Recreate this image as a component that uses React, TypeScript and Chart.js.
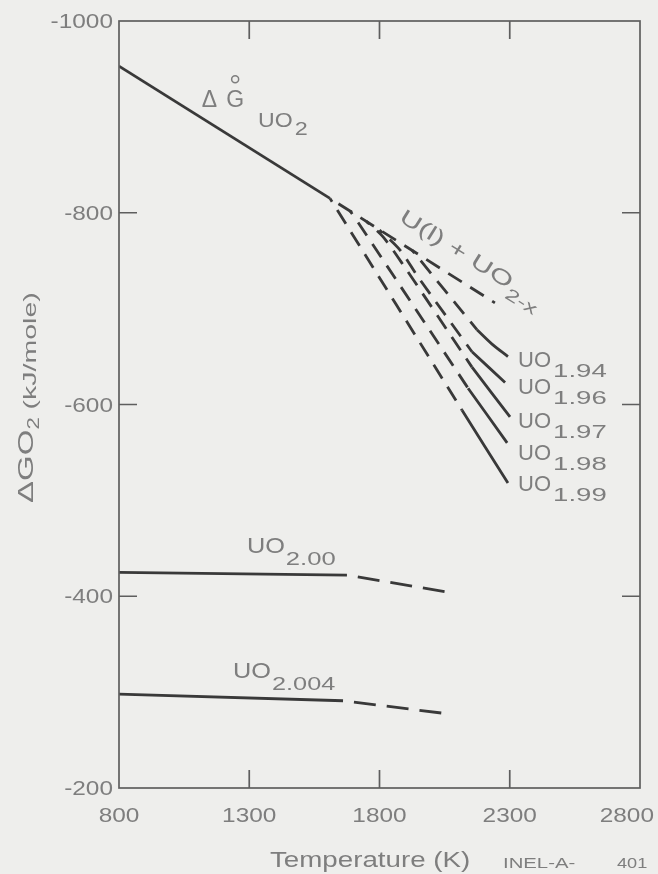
import React, { useEffect, useRef } from 'react';
import { Chart, registerables } from 'chart.js';

Chart.register(...registerables);

const W = 658;
const H = 874;

// Axes
const tempMin = 800;
const tempMax = 2800;
const tempTicks = [800, 1300, 1800, 2300, 2800];
const gMin = -1000;
const gMax = -200;
const gTicks = [-1000, -800, -600, -400, -200];
const innerTempTicks = [1300, 1800, 2300];
const innerGTicks = [-800, -600, -400];

// Standard free energy of formation of UO2 (solid line)
const dgTemp = [800, 1610];
const dgValue = [-953, -815];

// U(l) + UO2-x continuation (dashed)
const ulTemp = [1610, 2243];
const ulValue = [-815, -706];

// Hypostoichiometric UO2-x: each leaves the U(l) + UO2-x line (dashed),
// then becomes solid in the single-phase region
const hypoLabels = ['1.94', '1.96', '1.97', '1.98', '1.99'];
const hypoDashTemp = [
  [1925, 2174],
  [1800, 1879, 1948, 2155],
  [1750, 1813, 1890, 2155],
  [1687, 1725, 2140],
  [1610, 2117],
];
const hypoDashValue = [
  [-761, -678],
  [-782, -761, -733, -655],
  [-791, -775, -746, -639],
  [-802, -787, -617],
  [-815, -594],
];
const hypoTailTemp = [
  [2174, 2232, 2293],
  [2155, 2282],
  [2155, 2301],
  [2140, 2290],
  [2117, 2293],
];
const hypoTailValue = [
  [-678, -663, -650],
  [-655, -623],
  [-639, -587],
  [-617, -560],
  [-594, -518],
];
const hypoLabelValue = [-648, -620, -585, -552, -519];
const hypoLabelTemp = 2332;

// Stoichiometric UO2.00 and hyperstoichiometric UO2.004: solid, then dashed
const uo200Temp = [800, 1675, 2067];
const uo200Value = [-425, -422, -404];
const uo2004Temp = [800, 1660, 2044];
const uo2004Value = [-298, -291, -278];

// Annotation anchors (data units)
const dgLabelAt = { t: 1118, g: -910 };
const dgSubLabelAt = { t: 1334, g: -889 };
const ulLabelAt = { t: 1871, g: -792 };
const uo200LabelAt = { t: 1291, g: -445 };
const uo2004LabelAt = { t: 1238, g: -315 };

const BG = '#eeeeec';
const INK = '#393939';
const TEXT = '#7e7e7e';
const FRAME = '#5e5e5e';
const FONT = '"Liberation Sans", Arial, Helvetica, sans-serif';

type Run = { t: string; size: number; dy?: number; sx?: number; gap?: number };

function runsWidth(ctx: CanvasRenderingContext2D, runs: Run[]) {
  let w = 0;
  for (const r of runs) {
    ctx.font = `${r.size}px ${FONT}`;
    w += (r.gap ?? 0) + ctx.measureText(r.t).width * (r.sx ?? 1);
  }
  return w;
}

function drawRuns(ctx: CanvasRenderingContext2D, x: number, y: number, runs: Run[], angle = 0) {
  ctx.save();
  ctx.translate(x, y);
  if (angle) ctx.rotate(angle);
  ctx.textAlign = 'left';
  ctx.textBaseline = 'alphabetic';
  ctx.fillStyle = TEXT;
  let cx = 0;
  const xs: number[] = [];
  for (const r of runs) {
    ctx.font = `${r.size}px ${FONT}`;
    const sx = r.sx ?? 1;
    cx += r.gap ?? 0;
    xs.push(cx);
    ctx.save();
    ctx.translate(cx, r.dy ?? 0);
    ctx.scale(sx, 1);
    ctx.fillText(r.t, 0, 0);
    ctx.restore();
    cx += ctx.measureText(r.t).width * sx;
  }
  ctx.restore();
  return xs;
}

const pts = (xs: number[], ys: number[]) => xs.map((x, i) => ({ x, y: ys[i] }));

const line = (data: { x: number; y: number }[], dash: number[] = [], offset = 0, tension = 0) => ({
  data,
  showLine: true,
  borderColor: INK,
  borderWidth: 2.8,
  borderDash: dash,
  borderDashOffset: offset,
  borderCapStyle: 'butt' as const,
  pointRadius: 0,
  pointHoverRadius: 0,
  fill: false,
  tension,
});

function buildDatasets() {
  const ds: any[] = [];
  ds.push(line(pts(dgTemp, dgValue)));
  ds.push(line(pts(ulTemp, ulValue), [16, 10], 16));
  hypoLabels.forEach((_, i) => {
    ds.push(line(pts(hypoDashTemp[i], hypoDashValue[i]), [16, 10], 12, 0.3));
    ds.push(line(pts(hypoTailTemp[i], hypoTailValue[i]), [], 0, 0.3));
  });
  ds.push(line(pts(uo200Temp.slice(0, 2), uo200Value.slice(0, 2))));
  ds.push(line(pts(uo200Temp.slice(1), uo200Value.slice(1)), [22, 11], 22));
  ds.push(line(pts(uo2004Temp.slice(0, 2), uo2004Value.slice(0, 2))));
  ds.push(line(pts(uo2004Temp.slice(1), uo2004Value.slice(1)), [22, 11], 22));
  return ds;
}

const paper = {
  id: 'paper',
  beforeDraw(chart: any) {
    const { ctx } = chart;
    ctx.save();
    ctx.fillStyle = BG;
    ctx.fillRect(0, 0, chart.width, chart.height);
    ctx.restore();
  },
};

const decorations = {
  id: 'decorations',
  afterDraw(chart: any) {
    const { ctx, chartArea: a } = chart;
    const xs = chart.scales.x;
    const ys = chart.scales.y;
    const px = (t: number) => xs.getPixelForValue(t);
    const py = (g: number) => ys.getPixelForValue(g);

    ctx.save();
    // frame
    ctx.strokeStyle = FRAME;
    ctx.lineWidth = 1.7;
    ctx.strokeRect(a.left, a.top, a.right - a.left, a.bottom - a.top);

    // inward ticks
    const L = 18;
    ctx.beginPath();
    for (const t of innerTempTicks) {
      const x = px(t);
      ctx.moveTo(x, a.bottom);
      ctx.lineTo(x, a.bottom - L);
      ctx.moveTo(x, a.top);
      ctx.lineTo(x, a.top + L);
    }
    for (const g of innerGTicks) {
      const y = py(g);
      ctx.moveTo(a.left, y);
      ctx.lineTo(a.left + L, y);
      ctx.moveTo(a.right, y);
      ctx.lineTo(a.right - L, y);
    }
    ctx.stroke();

    // x tick labels
    for (const t of tempTicks) {
      const runs: Run[] = [{ t: String(t), size: 20, sx: 1.22 }];
      const w = runsWidth(ctx, runs);
      let x = px(t) - w / 2;
      x = Math.min(x, W - 4 - w);
      drawRuns(ctx, x, a.bottom + 34, runs);
    }
    // y tick labels
    for (const g of gTicks) {
      const runs: Run[] = [{ t: String(g), size: 20, sx: 1.22 }];
      const w = runsWidth(ctx, runs);
      drawRuns(ctx, a.left - 6 - w, py(g) + 7, runs);
    }

    // axis titles
    drawRuns(ctx, 270, 867, [{ t: 'Temperature (K)', size: 22, sx: 1.26 }]);
    drawRuns(ctx, 503, 868, [{ t: 'INEL-A-', size: 14, sx: 1.45 }]);
    drawRuns(ctx, 617, 868, [{ t: '401', size: 14, sx: 1.3 }]);
    drawRuns(
      ctx,
      33,
      503,
      [
        { t: 'ΔGO', size: 22, sx: 1.5 },
        { t: '2', size: 17, dy: 6, sx: 1.3 },
        { t: ' (kJ/mole)', size: 19, dy: 3, sx: 1.5 },
      ],
      -Math.PI / 2
    );

    // ΔG° UO2
    {
      const x0 = px(dgLabelAt.t);
      const y0 = py(dgLabelAt.g);
      const offs = drawRuns(ctx, x0, y0, [
        { t: 'Δ', size: 23 },
        { t: 'G', size: 23, gap: 9 },
      ]);
      ctx.font = `23px ${FONT}`;
      const gw = ctx.measureText('G').width;
      ctx.strokeStyle = TEXT;
      ctx.lineWidth = 1.5;
      ctx.beginPath();
      ctx.arc(x0 + offs[1] + gw / 2, y0 - 28, 3.5, 0, Math.PI * 2);
      ctx.stroke();
      drawRuns(ctx, px(dgSubLabelAt.t), py(dgSubLabelAt.g), [
        { t: 'UO', size: 21, sx: 1.1 },
        { t: '2', size: 18, dy: 8, sx: 1.3, gap: 2 },
      ]);
    }

    // U(l) + UO2-x along the continuation
    drawRuns(
      ctx,
      px(ulLabelAt.t),
      py(ulLabelAt.g),
      [
        { t: 'U(l) + UO', size: 21, sx: 1.45 },
        { t: '2-x', size: 17, dy: 9, sx: 1.45, gap: 1 },
      ],
      (32 * Math.PI) / 180
    );

    // hypostoichiometric labels
    hypoLabels.forEach((lab, i) => {
      const yc = py(hypoLabelValue[i]);
      drawRuns(ctx, px(hypoLabelTemp), yc + 9, [
        { t: 'UO', size: 22 },
        { t: lab, size: 19, dy: 10, sx: 1.45, gap: 2 },
      ]);
    });

    // UO2.00 and UO2.004
    drawRuns(ctx, px(uo200LabelAt.t), py(uo200LabelAt.g), [
      { t: 'UO', size: 22, sx: 1.15 },
      { t: '2.00', size: 19, dy: 12, sx: 1.35, gap: 1 },
    ]);
    drawRuns(ctx, px(uo2004LabelAt.t), py(uo2004LabelAt.g), [
      { t: 'UO', size: 22, sx: 1.15 },
      { t: '2.004', size: 19, dy: 12, sx: 1.33, gap: 1 },
    ]);

    ctx.restore();
  },
};

export default function App() {
  const ref = useRef<HTMLCanvasElement>(null);

  useEffect(() => {
    document.body.style.margin = '0';
    document.body.style.background = BG;
    const chart = new Chart(ref.current!, {
      type: 'scatter',
      data: { datasets: buildDatasets() },
      options: {
        responsive: false,
        animation: false,
        devicePixelRatio: 1,
        events: [],
        layout: { padding: { top: 21, right: 18, left: 0, bottom: 0 } },
        plugins: {
          legend: { display: false },
          tooltip: { enabled: false },
        },
        scales: {
          x: {
            type: 'linear',
            min: tempMin,
            max: tempMax,
            grid: { display: false },
            border: { display: false },
            ticks: { display: false },
            afterFit: (s: any) => {
              s.height = 86;
            },
          },
          y: {
            type: 'linear',
            min: gMin,
            max: gMax,
            reverse: true,
            grid: { display: false },
            border: { display: false },
            ticks: { display: false },
            afterFit: (s: any) => {
              s.width = 119;
            },
          },
        },
      },
      plugins: [paper, decorations],
    } as any);
    return () => chart.destroy();
  }, []);

  return (
    <div style={{ width: W, height: H, background: BG }}>
      <canvas ref={ref} width={W} height={H} style={{ display: 'block', width: W, height: H }} />
    </div>
  );
}
